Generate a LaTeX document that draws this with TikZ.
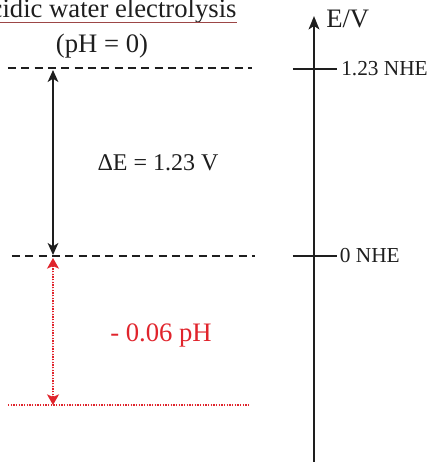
\documentclass[tikz,border=0pt]{standalone}
\usepackage{fontspec}
\setmainfont{Liberation Serif}
\usepackage{xcolor}
\usepackage{tikz}
\usetikzlibrary{arrows.meta,positioning}
\definecolor{ewInk}{HTML}{1E1E1E}
\definecolor{ewRed}{HTML}{E0242C}
\definecolor{ewUnder}{HTML}{9C4646}
\tikzset{
  ew diagram/.style={x=0.75pt, y=-0.75pt, font=\fontsize{20}{24}\selectfont,
    text=ewInk, line join=round},
  ew level/.style={draw=ewInk, line width=1.5pt, dash pattern=on 6pt off 4pt},
  ew red level/.style={draw=ewRed, line width=1pt, dash pattern=on 1pt off 1pt},
  ew arrow/.style={{Stealth[length=9pt,width=8pt,inset=2.5pt]}-{Stealth[length=9pt,width=8pt,inset=2.5pt]},
    draw=ewInk, line width=1.4pt},
  ew red arrow/.style={{Stealth[length=8pt,width=9pt,inset=2pt]}-{Stealth[length=8pt,width=9pt,inset=2pt]},
    draw=ewRed, fill=ewRed, line width=1pt, dash pattern=on 1pt off 1pt},
  ew axis/.style={-{Stealth[length=10pt,width=8pt,inset=2.5pt]}, draw=ewInk, line width=1.6pt},
  ew tick/.style={draw=ewInk, line width=1.3pt},
  ew label/.style={font=\fontsize{16}{19}\selectfont, inner sep=1pt}
}
\begin{document}
\begin{tikzpicture}[ew diagram]
\useasboundingbox (0,0) rectangle (433,462);
% title, cut at the left edge
\node[anchor=base, inner sep=0pt] (title) at (104,17) {Acidic water electrolysis};
\draw[draw=ewUnder, line width=0.7pt] ([yshift=-4pt]title.base west) -- ([yshift=-4pt]title.base east);
\node[anchor=base] (ph0) at (102,52) {(pH = 0)};
% levels
\coordinate (oxL) at (8,68);
\coordinate (oxR) at (252,68);
\coordinate (heL) at (12,256);
\coordinate (heR) at (255,256);
\coordinate (phL) at (8,405);
\coordinate (phR) at (250,405);
\draw[ew level] (oxL) -- (oxR);
\draw[ew level] (heL) -- (heR);
\draw[ew red level] (phL) -- (phR);
% span arrows
\coordinate (dEtop) at (53,70);
\coordinate (dEbot) at (53,255);
\coordinate (phtop) at (53,258);
\coordinate (phbot) at (53,405);
\draw[ew arrow] (dEtop) -- (dEbot);
\draw[ew red arrow] (phtop) -- (phbot);
\node[anchor=base, font=\fontsize{18}{22}\selectfont] (dE) at (158,170) {ΔE = 1.23 V};
\node[anchor=base, text=ewRed] (shift) at (161,341) {- 0.06 pH};
% potential axis
\coordinate (axBot) at (314,462);
\coordinate (axTop) at (314,16);
\draw[ew axis] (axBot) -- (axTop);
\node[anchor=base west, inner sep=0pt] (ev) at (326,27) {E/V};
\coordinate (hiL) at (293,69);
\coordinate (hiR) at (337,69);
\coordinate (loL) at (293,256);
\coordinate (loR) at (337,256);
\draw[ew tick] (hiL) -- (hiR);
\draw[ew tick] (loL) -- (loR);
\node[ew label, right=2pt of hiR] (hi) {1.23 NHE};
\node[ew label, right=1pt of loR] (lo) {0 NHE};
\end{tikzpicture}
\end{document}
